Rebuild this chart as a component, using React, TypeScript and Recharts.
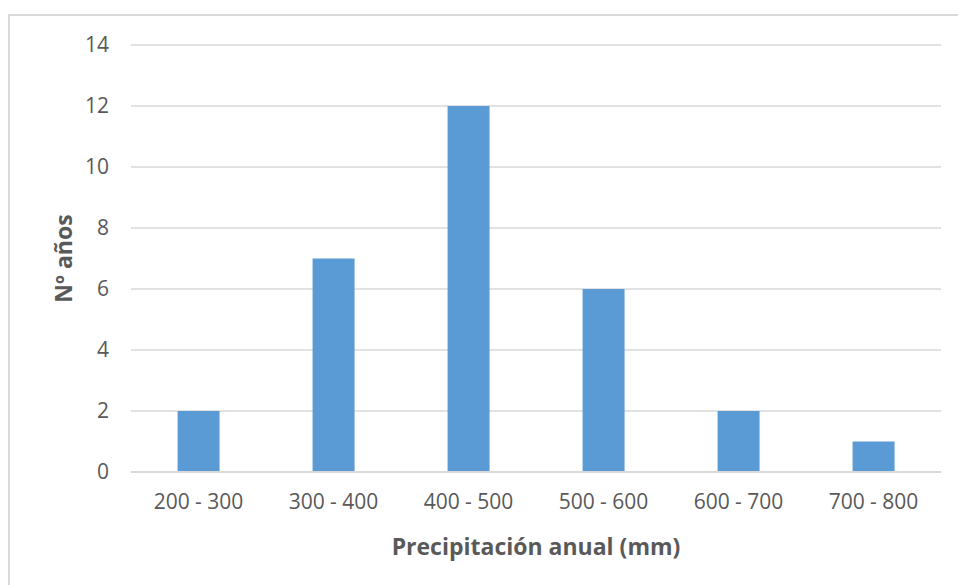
import { BarChart, Bar, XAxis, YAxis, CartesianGrid } from "recharts";

const ranges = ["200 - 300", "300 - 400", "400 - 500", "500 - 600", "600 - 700", "700 - 800"];
const yearCounts = [2, 7, 12, 6, 2, 1];
const yTicks = [0, 2, 4, 6, 8, 10, 12, 14];

const chartData = ranges.map((range, i) => ({ range, years: yearCounts[i] }));

const FONT = "'Open Sans', sans-serif";
const TEXT = "#595959";
const GRID = "#d9d9d9";

function YTitle({ viewBox }: any) {
  const cx = 63;
  const cy = viewBox.y + viewBox.height / 2;
  return (
    <text
      x={cx}
      y={cy}
      transform={`rotate(-90 ${cx} ${cy})`}
      textAnchor="middle"
      dominantBaseline="central"
      fill={TEXT}
      fontFamily={FONT}
      fontWeight={700}
      fontSize={23}
    >
      Nº años
    </text>
  );
}

function XTitle({ viewBox }: any) {
  const cx = viewBox.x + viewBox.width / 2;
  return (
    <text
      x={cx}
      y={546}
      textAnchor="middle"
      dominantBaseline="central"
      fill={TEXT}
      fontFamily={FONT}
      fontWeight={700}
      fontSize={23}
    >
      Precipitación anual (mm)
    </text>
  );
}

export default function App() {
  return (
    <div style={{ position: "absolute", left: 0, top: 0, width: 958, height: 585, background: "#fff", overflow: "hidden" }}>
      <div
        style={{
          position: "absolute",
          left: 8,
          top: 14,
          width: 960,
          height: 600,
          border: `2px solid ${GRID}`,
          boxSizing: "border-box",
        }}
      />
      <div style={{ position: "absolute", left: 0, top: 0 }}>
        <BarChart
          width={958}
          height={585}
          data={chartData}
          margin={{ top: 45, right: 17, bottom: 73, left: 71 }}
          barCategoryGap="34.5%"
        >
          <CartesianGrid vertical={false} stroke={GRID} strokeWidth={1.5} />
          <XAxis
            dataKey="range"
            axisLine={{ stroke: GRID, strokeWidth: 2 }}
            tickLine={false}
            tickSize={0}
            tickMargin={22}
            tick={{ fill: TEXT, fontFamily: FONT, fontSize: 21 }}
            height={40}
            label={<XTitle />}
          />
          <YAxis
            width={60}
            domain={[0, 14]}
            ticks={yTicks}
            axisLine={false}
            tickLine={false}
            tickSize={0}
            tickMargin={22}
            tick={{ fill: TEXT, fontFamily: FONT, fontSize: 21 }}
            label={<YTitle />}
          />
          <Bar dataKey="years" fill="#5b9bd5" isAnimationActive={false} />
        </BarChart>
      </div>
    </div>
  );
}
